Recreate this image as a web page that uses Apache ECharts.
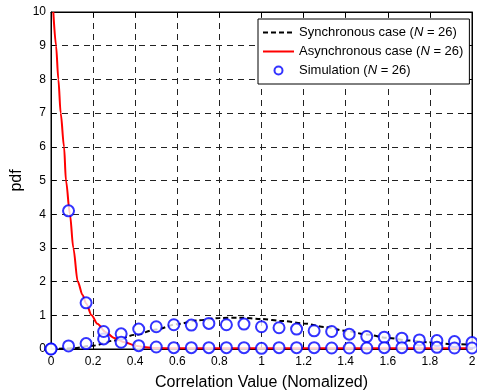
<!DOCTYPE html>
<html><head><meta charset="utf-8">
<script src="https://cdn.jsdelivr.net/npm/echarts@6/dist/echarts.min.js"></script>
<style>html,body{margin:0;padding:0;background:#fff}#c{width:477px;height:392px}</style>
</head><body><div id="c"></div>
<script>
// Synchronous case (analytic curve)
var syncX = [0,0.1,0.2,0.3,0.4,0.5,0.6,0.7,0.8,0.9,1.0,1.1,1.2,1.3,1.4,1.5,1.6,1.7,1.8,1.9,2.0];
var syncY = [0,0.02,0.1,0.25,0.42,0.58,0.74,0.85,0.92,0.93,0.89,0.83,0.76,0.65,0.54,0.43,0.33,0.25,0.2,0.15,0.12];
// Asynchronous case (analytic curve)
var asyncX = [0.011,0.024,0.035,0.046,0.062,0.071,0.09,0.106,0.127,0.15,0.167,0.193,0.22,0.26,0.3,0.35,0.4,0.45,0.5,0.6,0.8,1.0,1.2,1.4,1.6,1.8,2.0];
var asyncY = [10,9,8,7,6,5,4,3,2,1.6,1.35,1.0,0.75,0.5,0.33,0.2,0.1,0.05,0.03,0.02,0.02,0.02,0.02,0.02,0.02,0.02,0.02];
// Simulation points at k/12
var simX = [0,0.0833,0.1667,0.25,0.3333,0.4167,0.5,0.5833,0.6667,0.75,0.8333,0.9167,1.0,1.0833,1.1667,1.25,1.3333,1.4167,1.5,1.5833,1.6667,1.75,1.8333,1.9167,2.0];
var simSyncY = [0,0.09,0.16,0.3,0.45,0.59,0.66,0.72,0.71,0.76,0.72,0.74,0.66,0.63,0.59,0.54,0.52,0.44,0.37,0.35,0.32,0.27,0.25,0.22,0.19];
var simAsyncY = [0,4.1,1.37,0.52,0.2,0.1,0.06,0.04,0.04,0.04,0.04,0.04,0.02,0.04,0.04,0.04,0.03,0.03,0.03,0.04,0.04,0.05,0.05,0.03,0.03];
var xTicks = [0,0.2,0.4,0.6,0.8,1,1.2,1.4,1.6,1.8,2];
var yTicks = [0,1,2,3,4,5,6,7,8,9,10];

function pairs(xs, ys){ return xs.map(function(x,i){ return [x, ys[i]]; }); }
var simData = pairs(simX, simSyncY).concat(pairs(simX, simAsyncY));
var FONT = 'Liberation Sans';
var fmt = function(v){ return String(Math.round(v*10)/10); };

var chart = echarts.init(document.getElementById('c'), null, {renderer:'canvas'});
var axisCommon = {
  axisLine:{show:true, onZero:false, lineStyle:{color:'#000', width:1}},
  axisTick:{show:true, inside:true, length:5, lineStyle:{color:'#000'}},
};
chart.setOption({
  animation:false,
  backgroundColor:'#fff',
  grid:{left:51, right:5, top:12, bottom:43, show:true, borderColor:'#000', borderWidth:1,
        containLabel:false, outerBoundsMode:'none'},
  legend:{
    orient:'vertical', left:258, top:19, padding:[6,6,6,4], itemGap:4,
    itemWidth:31, itemHeight:8,
    backgroundColor:'#fff', borderColor:'#000', borderWidth:1, borderRadius:0,
    textStyle:{fontFamily:FONT, fontSize:13, color:'#000', lineHeight:15,
      rich:{i:{fontStyle:'italic', fontFamily:FONT, fontSize:13, color:'#000', lineHeight:15}}},
    formatter:function(n){ return n.replace('N', '{i|N}'); },
    data:[
      {name:'Synchronous case (N = 26)', itemStyle:{opacity:0}},
      {name:'Asynchronous case (N = 26)', itemStyle:{opacity:0}},
      {name:'Simulation (N = 26)', icon:'emptyCircle', itemStyle:{color:'#0000ff', borderColor:'#0000ff', borderWidth:2}}
    ]
  },
  xAxis:[
    Object.assign({type:'value', min:0, max:2, interval:0.2, position:'bottom',
      name:'Correlation Value (Nomalized)', nameLocation:'middle', nameGap:26, nameMoveOverlap:false,
      nameTextStyle:{fontFamily:FONT, fontSize:16, color:'#000'},
      axisLabel:{fontFamily:FONT, fontSize:12, color:'#000', margin:7, formatter:fmt},
      splitLine:{show:true, lineStyle:{color:'#222', type:[6,5], width:1}}}, axisCommon),
    Object.assign({type:'value', min:0, max:2, interval:0.2, position:'top',
      axisLabel:{show:false}, splitLine:{show:false}}, axisCommon)
  ],
  yAxis:[
    Object.assign({type:'value', min:0, max:10, interval:1, position:'left',
      name:'pdf', nameLocation:'middle', nameGap:26, nameRotate:90, nameMoveOverlap:false,
      nameTextStyle:{fontFamily:FONT, fontSize:16, color:'#000'},
      axisLabel:{fontFamily:FONT, fontSize:12, color:'#000', margin:5, formatter:fmt},
      splitLine:{show:true, lineStyle:{color:'#222', type:[6,5], width:1}}}, axisCommon),
    Object.assign({type:'value', min:0, max:10, interval:1, position:'right',
      axisLabel:{show:false}, splitLine:{show:false}}, axisCommon)
  ],
  series:[
    {name:'Synchronous case (N = 26)', type:'line', data:pairs(syncX, syncY), smooth:0.3, smoothMonotone:'x',
     symbol:'none', showSymbol:false, lineStyle:{color:'#000', width:2, type:[5,3]}, itemStyle:{color:'#000'}, z:3},
    {name:'Asynchronous case (N = 26)', type:'line', data:pairs(asyncX, asyncY), smooth:0.3, smoothMonotone:'x',
     symbol:'none', showSymbol:false, lineStyle:{color:'#ff0000', width:2}, itemStyle:{color:'#ff0000'}, z:3},
    {name:'Simulation (N = 26)', type:'scatter', data:simData, symbol:'emptyCircle', symbolSize:11,
     itemStyle:{color:'#0000ff', borderColor:'#0000ff', borderWidth:2}, z:4}
  ]
});
</script></body></html>
